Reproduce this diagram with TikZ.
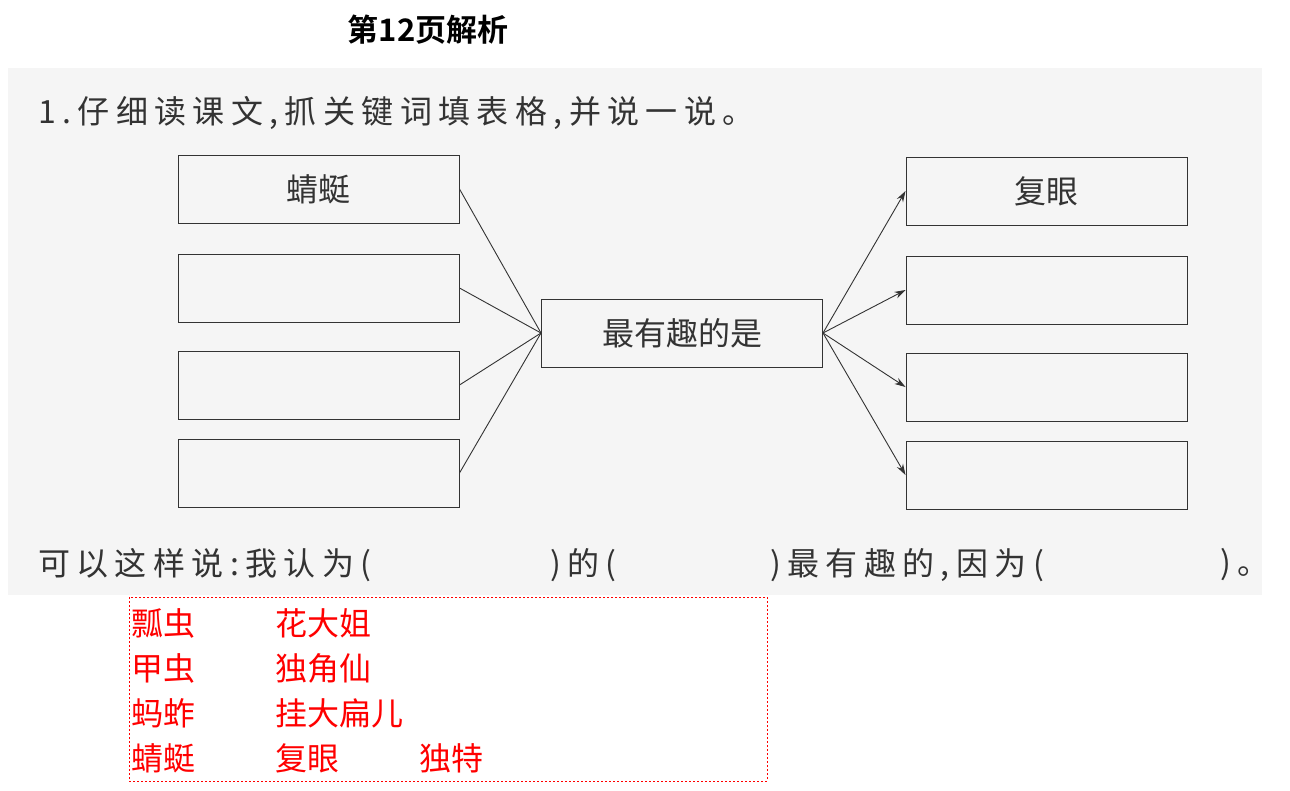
\documentclass[tikz,border=0pt]{standalone}
\usepackage{fontspec}
\newfontfamily\cjk{Noto Sans CJK SC}
\newfontfamily\cjks[LetterSpace=20]{Noto Sans CJK SC}
\newfontfamily\cjkb{Noto Sans CJK SC Bold}
\usetikzlibrary{arrows.meta}
\definecolor{ink}{HTML}{333333}
\definecolor{ansred}{HTML}{FF0000}
\tikzset{
 box/.style={draw=ink,line width=1pt,minimum width=281pt,minimum height=68pt,inner sep=0,font=\cjk\fontsize{32}{32}\selectfont,text=ink},
 conn/.style={draw=ink,line width=0.9pt},
 arr/.style={conn,-{Stealth[length=11pt,width=7pt]}},
 ans/.style={text=ansred,font=\cjk\fontsize{32}{32}\selectfont,anchor=west},
 txtline/.style={anchor=west,font=\cjks\fontsize{32}{32}\selectfont,text=ink,inner sep=0}
}
\begin{document}
\begin{tikzpicture}[x=1pt,y=-1pt]
\useasboundingbox (0,0) rectangle (1290,790);
\fill[fill=black!4] (8,68) rectangle (1262,595);
\node[font=\cjkb\fontsize{31}{31}\selectfont] (title) at (428,30) {第12页解析};
\node[txtline] (q) at (38,113) {1.仔细读课文,抓关键词填表格,并说一说。};
\node[box] (l1) at (318.5,189) {蜻蜓};
\node[box] (l2) at (318.5,288) {};
\node[box] (l3) at (318.5,385) {};
\node[box] (l4) at (318.5,473) {};
\node[box] (c) at (682,333) {最有趣的是};
\node[box] (r1) at (1046.5,191) {复眼};
\node[box] (r2) at (1046.5,290) {};
\node[box] (r3) at (1046.5,387) {};
\node[box] (r4) at (1046.5,475) {};
\draw[conn] (l1.east) -- (c.west);
\draw[conn] (l2.east) -- (c.west);
\draw[conn] (l3.east) -- (c.west);
\draw[conn] (l4.east) -- (c.west);
\draw[arr] (c.east) -- (r1.west);
\draw[arr] (c.east) -- (r2.west);
\draw[arr] (c.east) -- (r3.west);
\draw[arr] (c.east) -- (r4.west);
\node[txtline] (s1) at (38,565) {可以这样说:我认为(};
\node[txtline] (s2) at (550,565) {)的(};
\node[txtline] (s3) at (770,565) {)最有趣的,因为(};
\node[txtline] (s4) at (1220,565) {)。};
\draw[color=ansred,dash pattern=on 2pt off 2pt,line width=1pt] (129,597) rectangle (767,781);
\node[ans] (a1) at (128,623) {瓢虫};
\node[ans] (b1) at (272,623) {花大姐};
\node[ans] (a2) at (128,668) {甲虫};
\node[ans] (b2) at (272,668) {独角仙};
\node[ans] (a3) at (128,713) {蚂蚱};
\node[ans] (b3) at (272,713) {挂大扁儿};
\node[ans] (a4) at (128,758) {蜻蜓};
\node[ans] (b4) at (272,758) {复眼};
\node[ans] (c4) at (416,758) {独特};
\end{tikzpicture}
\end{document}
